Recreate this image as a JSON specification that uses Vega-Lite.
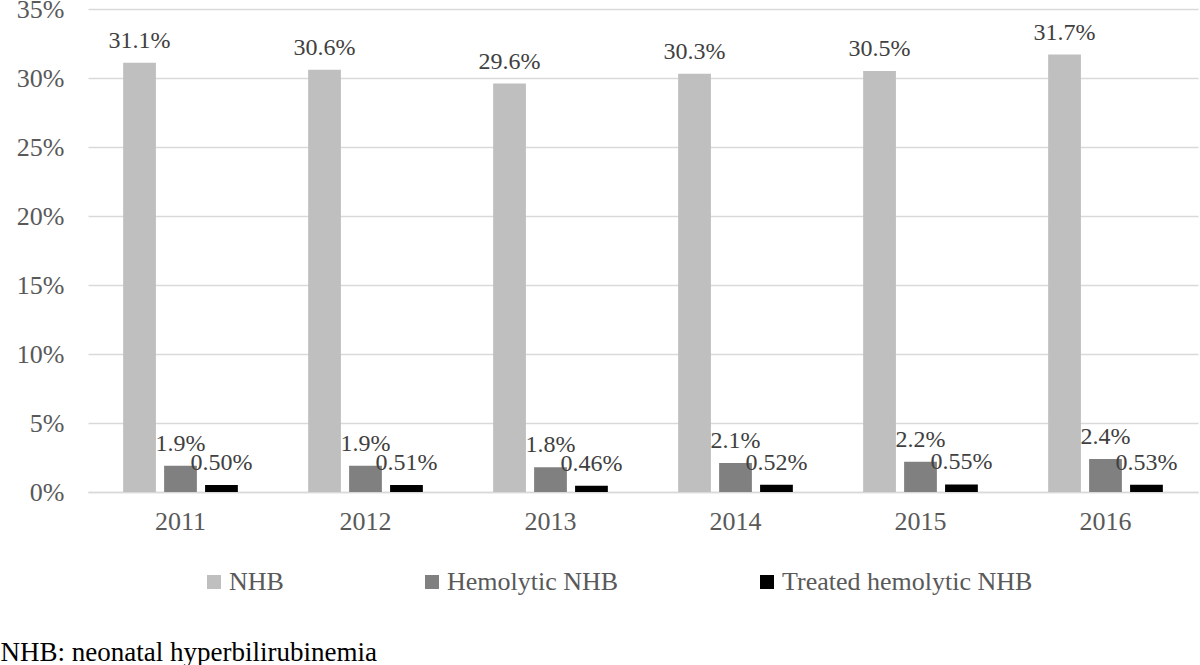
{
  "$schema": "https://vega.github.io/schema/vega-lite/v6.json",
  "autosize": {"type": "none"},
  "padding": {"left": 88, "top": 9, "right": 2, "bottom": 173},
  "width": 1110,
  "height": 483,
  "background": "white",
  "config": {
    "font": "Liberation Serif",
    "view": {"stroke": null}
  },
  "data": {
    "values": [
      {"year": "2011", "series": "NHB", "value": 0.311},
      {"year": "2011", "series": "Hemolytic NHB", "value": 0.019},
      {"year": "2011", "series": "Treated hemolytic NHB", "value": 0.0050},
      {"year": "2012", "series": "NHB", "value": 0.306},
      {"year": "2012", "series": "Hemolytic NHB", "value": 0.019},
      {"year": "2012", "series": "Treated hemolytic NHB", "value": 0.0051},
      {"year": "2013", "series": "NHB", "value": 0.296},
      {"year": "2013", "series": "Hemolytic NHB", "value": 0.018},
      {"year": "2013", "series": "Treated hemolytic NHB", "value": 0.0046},
      {"year": "2014", "series": "NHB", "value": 0.303},
      {"year": "2014", "series": "Hemolytic NHB", "value": 0.021},
      {"year": "2014", "series": "Treated hemolytic NHB", "value": 0.0052},
      {"year": "2015", "series": "NHB", "value": 0.305},
      {"year": "2015", "series": "Hemolytic NHB", "value": 0.022},
      {"year": "2015", "series": "Treated hemolytic NHB", "value": 0.0055},
      {"year": "2016", "series": "NHB", "value": 0.317},
      {"year": "2016", "series": "Hemolytic NHB", "value": 0.024},
      {"year": "2016", "series": "Treated hemolytic NHB", "value": 0.0053}
    ]
  },
  "encoding": {
    "x": {
      "field": "year",
      "type": "nominal",
      "title": "NHB: neonatal hyperbilirubinemia",
      "scale": {"paddingInner": 0.38, "paddingOuter": 0.19},
      "axis": {
        "labelAngle": 0,
        "labelFontSize": 26,
        "labelColor": "#595959",
        "labelPadding": 16,
        "ticks": false,
        "domainColor": "#d9d9d9",
        "domainWidth": 1.5,
        "grid": false,
        "titleFont": "Liberation Serif",
        "titleFontSize": 27,
        "titleFontWeight": "normal",
        "titleColor": "black",
        "titleAnchor": "start",
        "titleAlign": "left",
        "titleBaseline": "middle",
        "titleX": -88,
        "titleY": 160
      }
    },
    "xOffset": {
      "field": "series",
      "type": "nominal",
      "sort": ["NHB", "Hemolytic NHB", "Treated hemolytic NHB"],
      "scale": {"paddingInner": 0.2, "paddingOuter": 0}
    },
    "y": {
      "field": "value",
      "type": "quantitative",
      "title": null,
      "scale": {"domain": [0, 0.35], "nice": false},
      "axis": {
        "values": [0, 0.05, 0.1, 0.15, 0.2, 0.25, 0.3, 0.35],
        "format": ".0%",
        "labelFontSize": 26,
        "labelColor": "#595959",
        "labelPadding": 24,
        "ticks": false,
        "domain": false,
        "gridColor": "#d9d9d9",
        "gridWidth": 1.5
      }
    }
  },
  "layer": [
    {
      "mark": {"type": "bar"},
      "encoding": {
        "color": {
          "field": "series",
          "type": "nominal",
          "sort": ["NHB", "Hemolytic NHB", "Treated hemolytic NHB"],
          "scale": {
            "domain": ["NHB", "Hemolytic NHB", "Treated hemolytic NHB"],
            "range": ["#bfbfbf", "#808080", "#000000"]
          },
          "legend": {
            "title": null,
            "orient": "none",
            "direction": "horizontal",
            "legendX": 113,
            "legendY": 560,
            "symbolType": "square",
            "symbolSize": 196,
            "symbolStrokeWidth": 0,
            "labelFontSize": 26,
            "labelColor": "#595959",
            "labelOffset": 2,
            "columnPadding": 135,
            "labelLimit": 400
          }
        }
      }
    },
    {
      "mark": {
        "type": "text",
        "baseline": "middle",
        "align": "center",
        "dy": -22,
        "fontSize": 24,
        "color": "#404040"
      },
      "encoding": {
        "text": {
          "condition": {
            "test": "datum.series === 'Treated hemolytic NHB'",
            "field": "value",
            "type": "quantitative",
            "format": ".2%"
          },
          "field": "value",
          "type": "quantitative",
          "format": ".1%"
        }
      }
    }
  ]
}
